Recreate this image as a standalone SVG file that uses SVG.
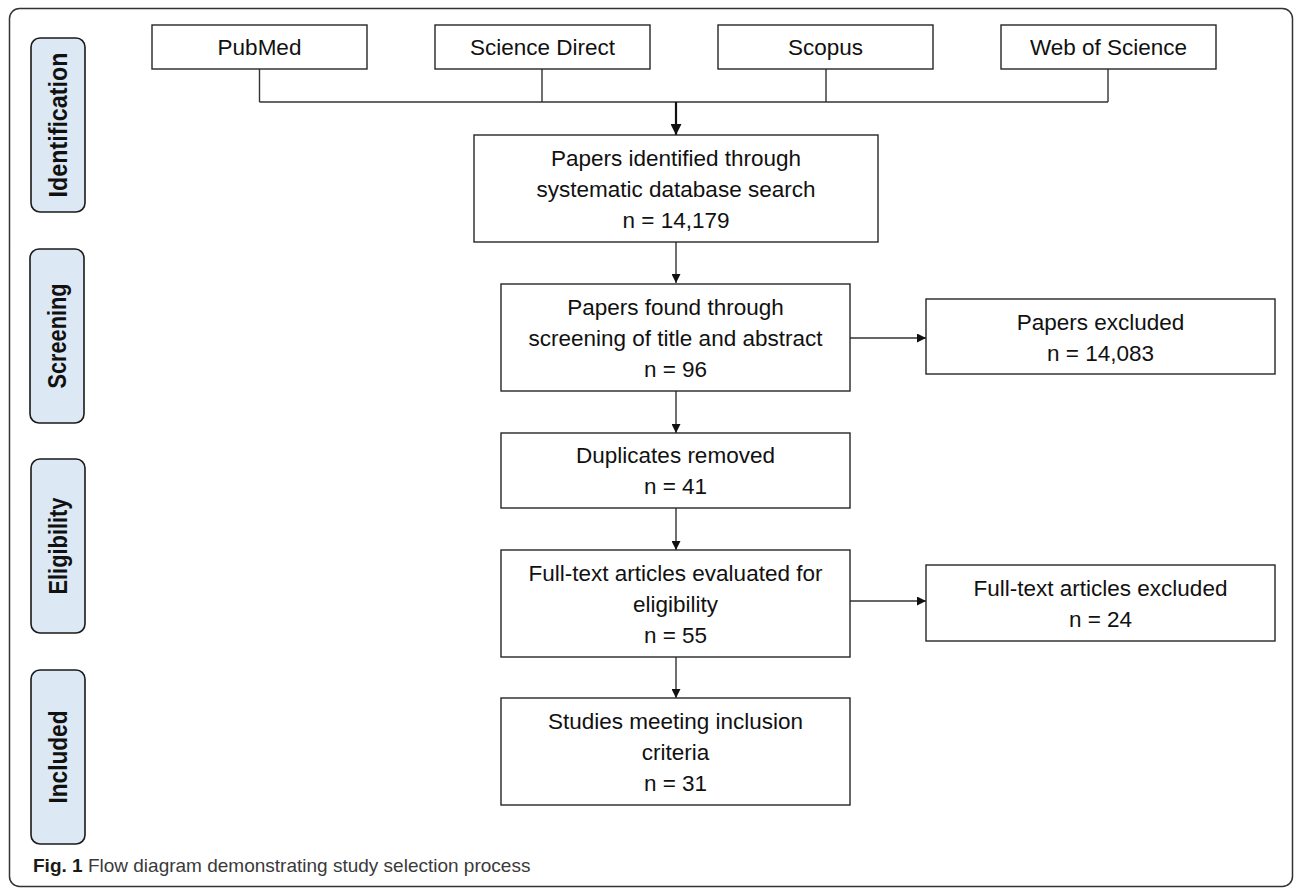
<svg xmlns="http://www.w3.org/2000/svg" width="1295" height="890" viewBox="0 0 1295 890">
<style>
  .box { fill: #ffffff; stroke: #262626; stroke-width: 1.4; }
  .stage { fill: #dde8f5; stroke: #1a1a1a; stroke-width: 1.6; }
  .t { font-family: "Liberation Sans", Arial, sans-serif; font-size: 22.5px; fill: #111111; text-anchor: middle; }
  .st { font-family: "Liberation Sans", Arial, sans-serif; font-size: 25px; font-weight: bold; fill: #111111; text-anchor: middle; }
  .cap { font-family: "Liberation Sans", Arial, sans-serif; font-size: 19px; fill: #3a3a3a; }
  .line { fill: none; stroke: #333333; stroke-width: 1.4; }
  .arr { fill: none; stroke: #333333; stroke-width: 1.4; marker-end: url(#ah); }
</style>
<defs>
  <marker id="ah" viewBox="0 0 10 10" refX="10" refY="5" markerWidth="9" markerHeight="9" markerUnits="userSpaceOnUse" orient="auto">
    <path d="M0,0 L10,5 L0,10 Z" fill="#111111"/>
  </marker>
  <marker id="ah2" viewBox="0 0 10 10" refX="10" refY="5" markerWidth="12" markerHeight="11" markerUnits="userSpaceOnUse" orient="auto">
    <path d="M0,0 L10,5 L0,10 Z" fill="#111111"/>
  </marker>
</defs>

<rect id="frame" x="9.5" y="8.5" width="1283" height="878" rx="10" ry="10" fill="#ffffff" stroke="#333333" stroke-width="1.5"/>

<g id="stage-identification">
  <rect class="stage" x="31" y="38" width="54" height="174" rx="9" ry="9"/>
  <text class="st" transform="translate(67,125) rotate(-90)" textLength="145" lengthAdjust="spacingAndGlyphs">Identification</text>
</g>
<g id="stage-screening">
  <rect class="stage" x="30" y="249" width="54" height="174" rx="9" ry="9"/>
  <text class="st" transform="translate(66,336) rotate(-90)" textLength="105" lengthAdjust="spacingAndGlyphs">Screening</text>
</g>
<g id="stage-eligibility">
  <rect class="stage" x="31" y="459" width="54" height="174" rx="9" ry="9"/>
  <text class="st" transform="translate(67,546) rotate(-90)" textLength="97" lengthAdjust="spacingAndGlyphs">Eligibility</text>
</g>
<g id="stage-included">
  <rect class="stage" x="31" y="670" width="54" height="174" rx="9" ry="9"/>
  <text class="st" transform="translate(67,757) rotate(-90)" textLength="93" lengthAdjust="spacingAndGlyphs">Included</text>
</g>

<g id="connectors">
  <path class="line" d="M259.5,69 V102 M542,69 V102 M826,69 V102 M1108,69 V102 M259.5,102 H1108"/>
  <path d="M676,102 V135" fill="none" stroke="#111111" stroke-width="2.2" marker-end="url(#ah2)"/>
  <path class="arr" d="M676,242 V283"/>
  <path class="arr" d="M676,391 V433"/>
  <path class="arr" d="M676,508 V550"/>
  <path class="arr" d="M676,657 V698"/>
  <path class="arr" d="M850,338 H926"/>
  <path class="arr" d="M850,601 H926"/>
</g>

<g id="pubmed">
  <rect class="box" x="152" y="25" width="215" height="44"/>
  <text class="t" x="259.5" y="55">PubMed</text>
</g>
<g id="science-direct">
  <rect class="box" x="435" y="25" width="215" height="44"/>
  <text class="t" x="542.5" y="55">Science Direct</text>
</g>
<g id="scopus">
  <rect class="box" x="718" y="25" width="215" height="44"/>
  <text class="t" x="825.5" y="55">Scopus</text>
</g>
<g id="web-of-science">
  <rect class="box" x="1001" y="25" width="215" height="44"/>
  <text class="t" x="1108.5" y="55">Web of Science</text>
</g>

<g id="identified">
  <rect class="box" x="474" y="135" width="404" height="107"/>
  <text class="t" x="676" y="165.5">Papers identified through</text>
  <text class="t" x="676" y="196.5">systematic database search</text>
  <text class="t" x="676" y="227.5">n = 14,179</text>
</g>

<g id="screened">
  <rect class="box" x="501" y="284" width="349" height="107"/>
  <text class="t" x="675.5" y="314.5">Papers found through</text>
  <text class="t" x="675.5" y="345.5">screening of title and abstract</text>
  <text class="t" x="675.5" y="376.5">n = 96</text>
</g>

<g id="papers-excluded">
  <rect class="box" x="926" y="299" width="349" height="75"/>
  <text class="t" x="1100.5" y="329.5">Papers excluded</text>
  <text class="t" x="1100.5" y="360.5">n = 14,083</text>
</g>

<g id="duplicates">
  <rect class="box" x="501" y="433" width="349" height="75"/>
  <text class="t" x="675.5" y="463">Duplicates removed</text>
  <text class="t" x="675.5" y="494">n = 41</text>
</g>

<g id="fulltext-evaluated">
  <rect class="box" x="501" y="550" width="349" height="107"/>
  <text class="t" x="675.5" y="580.5">Full-text articles evaluated for</text>
  <text class="t" x="675.5" y="611.5">eligibility</text>
  <text class="t" x="675.5" y="642.5">n = 55</text>
</g>

<g id="fulltext-excluded">
  <rect class="box" x="926" y="565" width="349" height="76"/>
  <text class="t" x="1100.5" y="596">Full-text articles excluded</text>
  <text class="t" x="1100.5" y="627">n = 24</text>
</g>

<g id="included">
  <rect class="box" x="501" y="698" width="349" height="107"/>
  <text class="t" x="675.5" y="728.5">Studies meeting inclusion</text>
  <text class="t" x="675.5" y="759.5">criteria</text>
  <text class="t" x="675.5" y="790.5">n = 31</text>
</g>

<g id="caption">
  <text class="cap" x="33" y="872"><tspan font-weight="bold" fill="#1a1a1a">Fig. 1</tspan> Flow diagram demonstrating study selection process</text>
</g>
</svg>
